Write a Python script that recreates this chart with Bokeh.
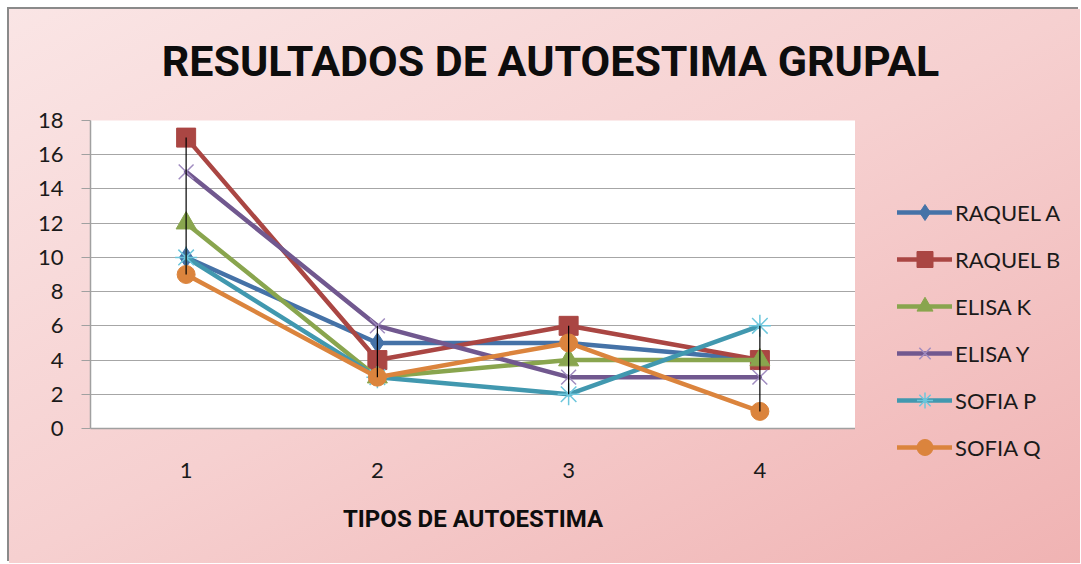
import numpy as np
from bokeh.plotting import figure
from bokeh.layouts import column, row
from bokeh.models import Range1d, FixedTicker, Legend, LegendItem, Label
from bokeh.embed import file_html
from bokeh.resources import INLINE

# ---- data ----
categories = [1, 2, 3, 4]
raquel_a = [10, 5, 5, 4]
raquel_b = [17, 4, 6, 4]
elisa_k = [12, 3, 4, 4]
elisa_y = [15, 6, 3, 3]
sofia_p = [10, 3, 2, 6]
sofia_q = [9, 3, 5, 1]
series_names = ["RAQUEL A", "RAQUEL B", "ELISA K", "ELISA Y", "SOFIA P", "SOFIA Q"]
y_ticks = [0, 2, 4, 6, 8, 10, 12, 14, 16, 18]
title_text = "RESULTADOS DE AUTOESTIMA GRUPAL"
x_title = "TIPOS DE AUTOESTIMA"

series_values = [raquel_a, raquel_b, elisa_k, elisa_y, sofia_p, sofia_q]

# ---- styles ----
line_colors = ["#4572A7", "#AA4643", "#89A54E", "#71588F", "#4198AF", "#DB843D"]
markers = ["diamond", "square", "triangle", "x", "asterisk", "circle"]
marker_colors = ["#4572A7", "#AA4643", "#89A54E", "#A08CC0", "#6CC6DC", "#DB843D"]
marker_sizes = [20, 19, 20, 21, 22, 18]
marker_lw = [1, 1, 1, 1.5, 1.5, 1]
TXT = "#1a1a1a"

TOTAL_W, TOTAL_H = 1071, 554
TITLE_H = 95
MAIN_W = 846
MAIN_H = TOTAL_H - TITLE_H
LEG_W = TOTAL_W - MAIN_W


def bare(fig):
    fig.axis.visible = False
    fig.grid.visible = False
    return fig


# ---- title strip ----
pt = bare(figure(width=TOTAL_W, height=TITLE_H, output_backend="svg", toolbar_location=None,
                 x_range=Range1d(0, TOTAL_W), y_range=Range1d(0, TITLE_H),
                 min_border=0, border_fill_color=None, background_fill_color=None,
                 outline_line_color=None))
pt.add_layout(Label(x=541, y=44, text=title_text, text_align="center", text_baseline="middle",
                    text_font="Roboto", text_font_size="43px", text_font_style="bold",
                    text_color="#0d0d0d"))

# ---- main chart ----
p = figure(width=MAIN_W, height=MAIN_H, output_backend="svg", toolbar_location=None,
           x_range=Range1d(0.5, 4.5), y_range=Range1d(0, 18),
           min_border_left=81, min_border_right=0, min_border_top=16, min_border_bottom=135,
           background_fill_color="white", border_fill_color=None, outline_line_color=None)

p.xgrid.grid_line_color = None
p.ygrid.ticker = FixedTicker(ticks=y_ticks)
p.ygrid.grid_line_color = "#a6a6a6"
p.ygrid.grid_line_width = 1.2

p.yaxis.ticker = FixedTicker(ticks=y_ticks)
p.yaxis.axis_line_color = "#a0a0a0"
p.yaxis.axis_line_width = 1.5
p.yaxis.major_tick_line_color = "#a0a0a0"
p.yaxis.major_tick_out = 9
p.yaxis.major_tick_in = 0
p.yaxis.minor_tick_line_color = None
p.yaxis.major_label_standoff = 18
p.yaxis.major_label_text_font = "Lato"
p.yaxis.major_label_text_font_size = "22px"
p.yaxis.major_label_text_color = TXT

p.xaxis.ticker = FixedTicker(ticks=categories)
p.xaxis.axis_line_color = "#a0a0a0"
p.xaxis.axis_line_width = 1.5
p.xaxis.major_tick_line_color = None
p.xaxis.minor_tick_line_color = None
p.xaxis.major_label_standoff = 28
p.xaxis.major_label_text_font = "Lato"
p.xaxis.major_label_text_font_size = "22px"
p.xaxis.major_label_text_color = TXT
p.xaxis.axis_label = x_title
p.xaxis.axis_label_standoff = 24
p.xaxis.axis_label_text_font = "Roboto"
p.xaxis.axis_label_text_font_size = "24px"
p.xaxis.axis_label_text_font_style = "bold"
p.xaxis.axis_label_text_color = "#0d0d0d"

for name, vals, lc, mk, mc, ms, mlw in zip(series_names, series_values, line_colors,
                                            markers, marker_colors, marker_sizes, marker_lw):
    p.line(categories, vals, line_color=lc, line_width=4.5, line_cap="round", line_join="round")
    p.scatter(categories, vals, marker=mk, size=ms, fill_color=mc, line_color=mc, line_width=mlw)

# high-low lines
arr = np.array(series_values)
p.segment(x0=categories, y0=arr.min(axis=0), x1=categories, y1=arr.max(axis=0),
          line_color="black", line_width=1.2)

# ---- legend strip (same series, drawn out of its view; only the legend shows) ----
pl = bare(figure(width=LEG_W, height=MAIN_H, output_backend="svg", toolbar_location=None,
                 x_range=Range1d(-1, 0), y_range=Range1d(-1, 0),
                 min_border=0, border_fill_color=None, background_fill_color=None,
                 outline_line_color=None))
items = []
for name, vals, lc, mk, mc, mlw in zip(series_names, series_values, line_colors, markers,
                                       marker_colors, marker_lw):
    r_line = pl.line(categories, vals, line_color=lc, line_width=4.5, line_cap="round")
    r_mark = pl.scatter(categories, vals, marker=mk, fill_color=mc, line_color=mc, line_width=mlw)
    items.append(LegendItem(label=name, renderers=[r_line, r_mark]))

legend = Legend(items=items, location=(42, 96), orientation="vertical",
                glyph_width=55, glyph_height=40, label_height=20, spacing=7,
                label_standoff=3, padding=0, margin=0,
                background_fill_alpha=0, border_line_alpha=0,
                label_text_font="Lato", label_text_font_size="22px", label_text_color=TXT)
pl.add_layout(legend, "center")

layout = column(pt, row(p, column(pl)),
                styles={"background": "linear-gradient(to bottom right, #fae5e5 0%, #f6d0d0 50%, #f0b3b3 100%)",
                        "margin-left": "9px", "margin-top": "9px",
                        "box-shadow": "-2px -2px 0 0 #8a8a8a"})

open("out.html", "w").write(file_html(layout, INLINE))
